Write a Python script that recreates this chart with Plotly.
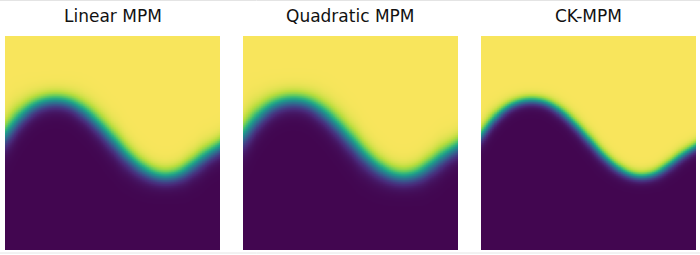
import numpy as np
import plotly.graph_objects as go

# ---- data ----
titles = ["Linear MPM", "Quadratic MPM", "CK-MPM"]
# interface sample positions (fraction of panel width) and heights (fraction of panel height, from bottom)
interface_x = [0.0, 0.0625, 0.125, 0.1875, 0.25, 0.3125, 0.375, 0.4375, 0.5,
               0.5625, 0.625, 0.6875, 0.75, 0.8125, 0.875, 0.9375, 1.0]
interface_h = [0.539, 0.616, 0.668, 0.694, 0.699, 0.683, 0.643, 0.585, 0.516,
               0.446, 0.391, 0.356, 0.345, 0.360, 0.399, 0.446, 0.485]
# diffuse interface half-width per method
band_width = [0.040, 0.043, 0.025]

colorscale = [[0.0, "#420650"], [0.111, "#482878"], [0.222, "#3e4989"],
              [0.333, "#31688e"], [0.444, "#26828e"], [0.556, "#1f9e89"],
              [0.667, "#35b779"], [0.778, "#6ece58"], [0.889, "#b8dd3e"],
              [1.0, "#f8e55c"]]


def hermite(xq, xp, yp):
    xp = np.asarray(xp, float)
    yp = np.asarray(yp, float)
    m = np.gradient(yp, xp)
    idx = np.clip(np.searchsorted(xp, xq) - 1, 0, len(xp) - 2)
    x0, x1 = xp[idx], xp[idx + 1]
    dx = x1 - x0
    t = (xq - x0) / dx
    h00 = 2 * t**3 - 3 * t**2 + 1
    h10 = t**3 - 2 * t**2 + t
    h01 = -2 * t**3 + 3 * t**2
    h11 = t**3 - t**2
    return h00 * yp[idx] + h10 * dx * m[idx] + h01 * yp[idx + 1] + h11 * dx * m[idx + 1]


# ---- build figure ----
N = 320
xs = np.linspace(0, 1, N)
ys = np.linspace(0, 1, N)
h = hermite(xs, interface_x, interface_h)
slope = np.gradient(h, xs)
X, Y = np.meshgrid(xs, ys)
H = np.tile(h, (N, 1))
S = np.sqrt(1 + np.tile(slope, (N, 1)) ** 2)

domains_px = [(5, 220), (243, 458), (481, 696)]
W, HT = 700, 255
y_top, y_bot = 36, 250

fig = go.Figure()
for i, (t, w) in enumerate(zip(titles, band_width)):
    z = 0.5 * (1 + np.tanh((Y - H) / (w * S)))
    ax = "" if i == 0 else str(i + 1)
    fig.add_trace(go.Heatmap(
        x=xs, y=ys, z=z, colorscale=colorscale, zmin=0, zmax=1,
        zsmooth="best", showscale=False, hoverinfo="skip",
        xaxis="x" + ax, yaxis="y" + ax))
    x0, x1 = domains_px[i]
    fig.update_layout(**{
        "xaxis" + ax: dict(domain=[x0 / W, x1 / W], range=[0, 1], visible=False,
                           fixedrange=True),
        "yaxis" + ax: dict(domain=[1 - y_bot / HT, 1 - y_top / HT], range=[0, 1],
                           visible=False, fixedrange=True),
    })
    fig.add_annotation(text=t, x=(x0 + x1) / 2 / W, y=1 - 16 / HT, xref="paper",
                       yref="paper", xanchor="center", yanchor="middle",
                       showarrow=False,
                       font=dict(family="DejaVu Sans", size=17, color="#111111"))

for yy in [1 - 0.5 / HT, 1 - 253 / HT]:
    fig.add_shape(type="line", xref="paper", yref="paper", x0=0, x1=1, y0=yy, y1=yy,
                  line=dict(color="#e4e4e4", width=1))

fig.update_layout(width=W, height=HT, margin=dict(l=0, r=0, t=0, b=0),
                  paper_bgcolor="white", plot_bgcolor="white", showlegend=False)

fig.write_html("out.html")
